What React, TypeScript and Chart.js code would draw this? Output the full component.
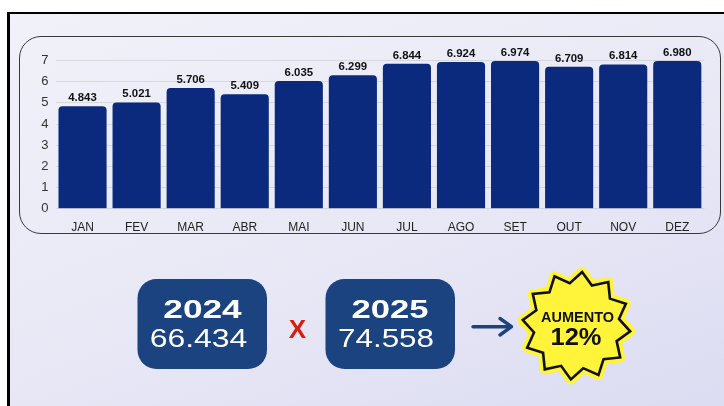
import React, { useEffect, useRef } from "react";
import { Chart, registerables } from "chart.js";

Chart.register(...registerables);

const months = ["JAN", "FEV", "MAR", "ABR", "MAI", "JUN", "JUL", "AGO", "SET", "OUT", "NOV", "DEZ"];
const values2025 = [4.843, 5.021, 5.706, 5.409, 6.035, 6.299, 6.844, 6.924, 6.974, 6.709, 6.814, 6.98];
const yTicks = [0, 1, 2, 3, 4, 5, 6, 7];
const yearLabels = ["2024", "2025"];
const yearTotals = ["66.434", "74.558"];
const badgeTitle = "AUMENTO";
const badgeValue = "12%";

const FONT = "'Liberation Sans', Arial, Helvetica, sans-serif";
const BAR = "#0b2a7e";
const BOX = "#1b437f";

const valueLabels = {
  id: "valueLabels",
  afterDatasetsDraw(chart: any) {
    const ctx = chart.ctx;
    const meta = chart.getDatasetMeta(0);
    ctx.save();
    ctx.font = `bold 11.4px ${FONT}`;
    ctx.fillStyle = "#111";
    ctx.textAlign = "center";
    ctx.textBaseline = "alphabetic";
    meta.data.forEach((bar: any, i: number) => {
      const v = chart.data.datasets[0].data[i] as number;
      ctx.fillText(v.toFixed(3), bar.x, bar.y - 5);
    });
    ctx.restore();
  },
};

function starPoints(cx: number, cy: number, rOut: number, rIn: number, n: number, rotDeg: number) {
  const pts: string[] = [];
  for (let i = 0; i < n * 2; i++) {
    const r = i % 2 === 0 ? rOut : rIn;
    const a = ((rotDeg + (i * 180) / n - 90) * Math.PI) / 180;
    pts.push(`${(cx + r * Math.cos(a)).toFixed(2)},${(cy + r * Math.sin(a)).toFixed(2)}`);
  }
  return pts.join(" ");
}

export default function App() {
  const ref = useRef<HTMLCanvasElement>(null);

  useEffect(() => {
    document.body.style.margin = "0";
    const chart = new Chart(ref.current!, {
      type: "bar",
      data: {
        labels: months,
        datasets: [
          {
            data: values2025,
            backgroundColor: BAR,
            borderRadius: 4,
            barPercentage: 0.89,
            categoryPercentage: 1,
          },
        ],
      },
      options: {
        animation: false,
        responsive: false,
        devicePixelRatio: 1,
        layout: { padding: { left: 25.5, right: 19.7, top: 60.5, bottom: 172.2 } },
        plugins: { legend: { display: false }, tooltip: { enabled: false } },
        scales: {
          x: {
            grid: { display: false },
            border: { display: false },
            ticks: { color: "#222", font: { family: FONT, size: 12 }, padding: 4 },
            afterFit: (s: any) => {
              s.height = 25;
            },
          },
          y: {
            min: 0,
            max: 7,
            afterBuildTicks: (s: any) => {
              s.ticks = yTicks.map((v) => ({ value: v }));
            },
            grid: { color: "rgba(0,0,0,0.09)", drawTicks: false },
            border: { display: false },
            ticks: { color: "#333", font: { family: FONT, size: 13 }, padding: 7 },
            afterFit: (s: any) => {
              s.width = 30;
            },
          },
        },
      },
      plugins: [valueLabels],
    });
    return () => chart.destroy();
  }, []);

  const boxes = [
    { x: 137.5, cx: 202.5, yearW: 78.4, totalW: 97.7 },
    { x: 325.5, cx: 390, yearW: 77, totalW: 96 },
  ];

  return (
    <div style={{ position: "fixed", left: 0, top: 0, width: 724, height: 406, background: "#fff", overflow: "hidden" }}>
      <div
        style={{
          position: "absolute",
          left: 7,
          top: 12,
          width: 717,
          height: 394,
          boxSizing: "border-box",
          borderLeft: "3px solid #000",
          borderTop: "2px solid #000",
          background: "linear-gradient(160deg, #f1f1f9 0%, #e9e9f6 50%, #dcdcf2 100%)",
        }}
      />
      <div
        style={{
          position: "absolute",
          left: 19,
          top: 36,
          width: 702,
          height: 198,
          boxSizing: "border-box",
          border: "1.5px solid #3a3a3a",
          borderRadius: 22,
        }}
      />
      <canvas ref={ref} width={724} height={406} style={{ position: "absolute", left: 0, top: 0 }} />
      <svg width={724} height={406} style={{ position: "absolute", left: 0, top: 0 }}>
        {boxes.map((b, i) => (
          <g key={i}>
            <rect x={b.x} y={279} width={129.5} height={90} rx={19} ry={19} fill={BOX} />
            <text
              x={b.cx}
              y={318.3}
              textAnchor="middle"
              fill="#fff"
              fontFamily={FONT}
              fontWeight="bold"
              fontSize={25}
              textLength={b.yearW}
              lengthAdjust="spacingAndGlyphs"
            >
              {yearLabels[i]}
            </text>
            <text
              x={b.cx - 4}
              y={346.7}
              textAnchor="middle"
              fill="#fff"
              fontFamily={FONT}
              fontSize={25.5}
              textLength={b.totalW}
              lengthAdjust="spacingAndGlyphs"
            >
              {yearTotals[i]}
            </text>
          </g>
        ))}
        <text x={297.5} y={337.5} textAnchor="middle" fill="#dd1c0e" fontFamily={FONT} fontWeight="bold" fontSize={26}>
          X
        </text>
        <line x1={473} y1={326.7} x2={510} y2={326.7} stroke={BOX} strokeWidth={3.4} strokeLinecap="round" />
        <polyline
          points="500,318.5 511.5,326.7 500,335"
          fill="none"
          stroke={BOX}
          strokeWidth={3.4}
          strokeLinecap="round"
          strokeLinejoin="round"
        />
        <polygon
          points={starPoints(576.5, 325.7, 54, 43, 12, 6)}
          fill="#fff43a"
          stroke="#fff43a"
          strokeWidth={10}
          strokeLinejoin="round"
        />
        <polygon points={starPoints(576.5, 325.7, 54, 43, 12, 6)} fill="#fff43a" stroke="#111" strokeWidth={2.6} strokeLinejoin="miter" />
        <text
          x={577.5}
          y={321.7}
          textAnchor="middle"
          fill="#111"
          fontFamily={FONT}
          fontWeight="bold"
          fontSize={14}
          textLength={73}
          lengthAdjust="spacingAndGlyphs"
        >
          {badgeTitle}
        </text>
        <text
          x={576}
          y={345}
          textAnchor="middle"
          fill="#111"
          fontFamily={FONT}
          fontWeight="bold"
          fontSize={23}
          textLength={51}
          lengthAdjust="spacingAndGlyphs"
        >
          {badgeValue}
        </text>
      </svg>
    </div>
  );
}
